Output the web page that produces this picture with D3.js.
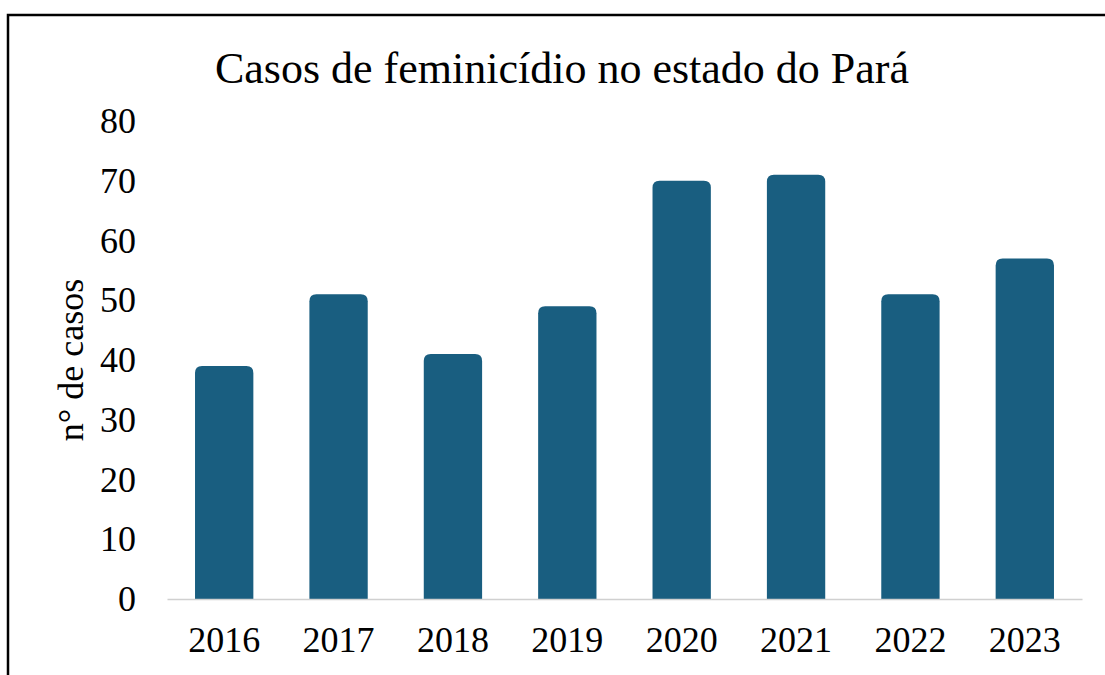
<!DOCTYPE html>
<html>
<head>
<meta charset="utf-8">
<script src="https://cdn.jsdelivr.net/npm/d3@7"></script>
<style>
body { margin: 0; background: white; }
text { font-family: "Liberation Serif", "Times New Roman", serif; fill: #000; }
</style>
</head>
<body>
<script>
var years = ["2016", "2017", "2018", "2019", "2020", "2021", "2022", "2023"];
var casos = [39, 51, 41, 49, 70, 71, 51, 57];
var yTicks = [0, 10, 20, 30, 40, 50, 60, 70, 80];
var title = "Casos de feminicídio no estado do Pará";
var yTitle = "n° de casos";

var W = 1105, H = 675;
var plotLeft = 167, plotRight = 1082, plotTop = 121, plotBottom = 599;
var barColour = "#195e80";

var svg = d3.select("body").append("svg")
	.attr("width", W).attr("height", H);

/*frame around the chart, runs off the right and bottom edges*/
svg.append("rect")
	.attr("x", 8).attr("y", 15).attr("width", 1120).attr("height", 700)
	.attr("fill", "white").attr("stroke", "#000").attr("stroke-width", 2.5);

var x = d3.scaleBand().domain(years).range([plotLeft, plotRight]).paddingInner(0.49).paddingOuter(0.245);
var y = d3.scaleLinear().domain([0, 80]).range([plotBottom, plotTop]);

svg.append("text")
	.attr("x", 562).attr("y", 83)
	.attr("text-anchor", "middle").style("font-size", "44px")
	.text(title);

/*y axis: labels only*/
var yAxis = svg.append("g")
	.attr("transform", "translate(" + plotLeft + ",0)")
	.call(d3.axisLeft(y).tickValues(yTicks).tickSize(0).tickPadding(31));
yAxis.select(".domain").remove();
yAxis.selectAll("text").style("font-size", "36px")
	.style("font-family", "Liberation Serif, serif").attr("fill", "#000");

svg.append("text")
	.attr("transform", "translate(70,360) rotate(-90)")
	.attr("text-anchor", "middle").attr("dy", "0.35em").style("font-size", "36px")
	.text(yTitle);

/*bars with rounded tops*/
var r = 7;
svg.selectAll(".bar").data(years).enter().append("path")
	.attr("class", "bar")
	.attr("fill", barColour)
	.attr("d", function(d, i) {
		var x0 = x(d), w = x.bandwidth(), y0 = y(casos[i]), y1 = y(0) + 1;
		return "M" + x0 + "," + y1 + "V" + (y0 + r) +
			"Q" + x0 + "," + y0 + " " + (x0 + r) + "," + y0 +
			"H" + (x0 + w - r) +
			"Q" + (x0 + w) + "," + y0 + " " + (x0 + w) + "," + (y0 + r) +
			"V" + y1 + "Z";
	});

/*x axis*/
var xAxis = svg.append("g")
	.attr("transform", "translate(0," + plotBottom + ")")
	.call(d3.axisBottom(x).tickSize(0).tickPadding(27));
xAxis.select(".domain").attr("stroke", "#d0d0d0").attr("stroke-width", 1.5);
xAxis.selectAll("text").style("font-size", "36px")
	.style("font-family", "Liberation Serif, serif").attr("fill", "#000");
</script>
</body>
</html>
